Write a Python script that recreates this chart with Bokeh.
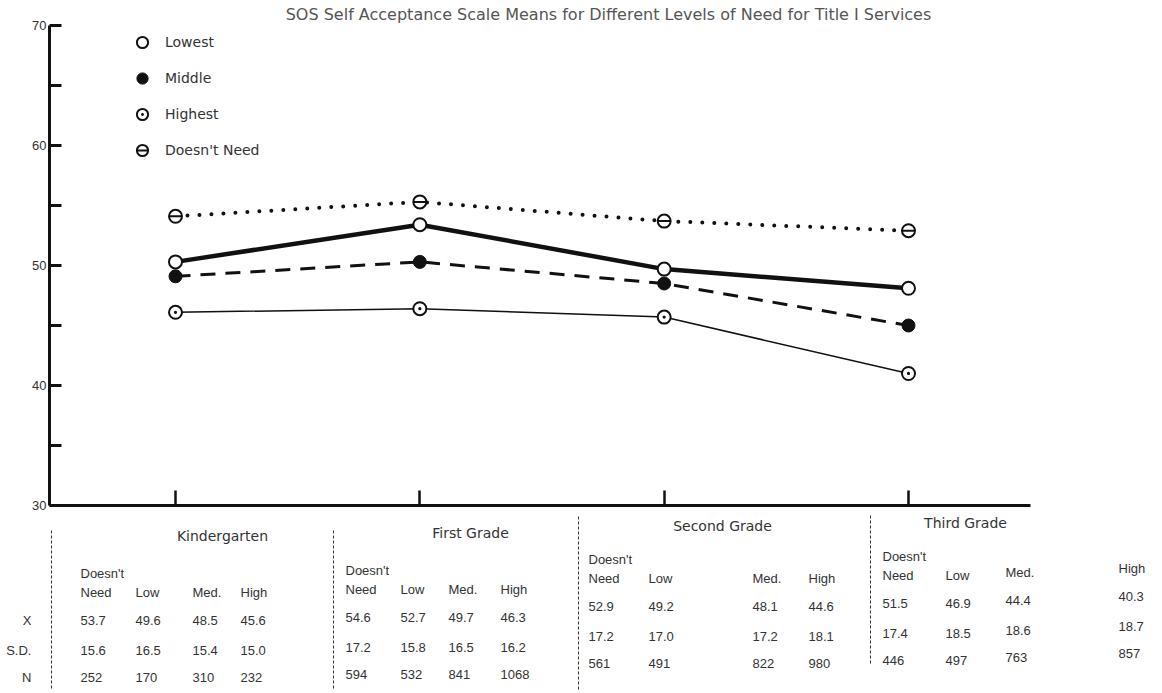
from bokeh.plotting import figure
from bokeh.models import Range1d, FixedTicker, Legend, LegendItem, Label, ColumnDataSource
from bokeh.layouts import column
from bokeh.embed import file_html
from bokeh.resources import INLINE
from bokeh.core.properties import value

# ---------------- data ----------------
grades = ["Kindergarten", "First Grade", "Second Grade", "Third Grade"]
series_names = ["Lowest", "Middle", "Highest", "Doesn't Need"]

# plotted means
lowest = [50.3, 53.4, 49.7, 48.1]
middle = [49.1, 50.3, 48.5, 45.0]
highest = [46.1, 46.4, 45.7, 41.0]
doesnt_need = [54.1, 55.3, 53.7, 52.9]

y_major = [30, 40, 50, 60, 70]
y_minor = [35, 45, 55, 65]

title_text = "SOS Self Acceptance Scale Means for Different Levels of Need for Title I Services"

# table below the chart
table_cols = ["Need", "Low", "Med.", "High"]
row_labels = ["X", "S.D.", "N"]
mean_kg = [53.7, 49.6, 48.5, 45.6]
mean_g1 = [54.6, 52.7, 49.7, 46.3]
mean_g2 = [52.9, 49.2, 48.1, 44.6]
mean_g3 = [51.5, 46.9, 44.4, 40.3]
sd_kg = [15.6, 16.5, 15.4, 15.0]
sd_g1 = [17.2, 15.8, 16.5, 16.2]
sd_g2 = [17.2, 17.0, 17.2, 18.1]
sd_g3 = [17.4, 18.5, 18.6, 18.7]
n_kg = [252, 170, 310, 232]
n_g1 = [594, 532, 841, 1068]
n_g2 = [561, 491, 822, 980]
n_g3 = [446, 497, 763, 857]

# ---------------- style / layout ----------------
NUMF = "Liberation Sans"
WORDF = "DejaVu Sans"
INK = "#111111"
TXT = "#333333"
W = 1160
TOP_H = 513
BOT_H = 177
LEFT = 49
BORDER_B = 8

x_idx = list(range(len(grades)))

top = figure(width=W, height=TOP_H,
             x_range=Range1d(-0.5157, 4.0314), y_range=Range1d(30, 72.083),
             output_backend="svg", toolbar_location=None,
             min_border_left=LEFT, min_border_right=0, min_border_top=0, min_border_bottom=BORDER_B)
top.outline_line_color = None
top.grid.visible = False
top.background_fill_color = "white"

ya = top.yaxis[0]
ya.ticker = FixedTicker(ticks=y_major, minor_ticks=y_minor)
ya.bounds = (30, 70)
ya.major_tick_in = 12
ya.major_tick_out = 0
ya.minor_tick_in = 12
ya.minor_tick_out = 0
ya.major_tick_line_width = 3
ya.minor_tick_line_width = 3
ya.major_tick_line_color = INK
ya.minor_tick_line_color = INK
ya.axis_line_width = 3
ya.axis_line_color = INK
ya.major_label_text_font = NUMF
ya.major_label_text_font_size = "13px"
ya.major_label_text_color = TXT
ya.major_label_standoff = 3

xa = top.xaxis[0]
xa.ticker = FixedTicker(ticks=[], minor_ticks=x_idx)
xa.bounds = (-0.5157, 3.5)
xa.minor_tick_in = 15
xa.minor_tick_out = 0
xa.minor_tick_line_width = 2.5
xa.minor_tick_line_color = INK
xa.major_tick_line_color = None
xa.major_tick_out = 0
xa.axis_line_width = 3
xa.axis_line_color = INK

# lines
top.line(x_idx, doesnt_need, line_width=4, line_dash="0 12", line_cap="round", line_color=INK)
top.line(x_idx, lowest, line_width=4.5, line_color=INK)
top.line(x_idx, middle, line_width=3, line_dash="15 10", line_color=INK)
top.line(x_idx, highest, line_width=1.5, line_color=INK)

# markers
r_low = top.scatter(x_idx, lowest, marker="circle", size=13, fill_color="white", line_color=INK, line_width=2)
r_mid = top.scatter(x_idx, middle, marker="circle", size=13, fill_color=INK, line_color=INK)
r_high = top.scatter(x_idx, highest, marker="circle_dot", size=13, fill_color="white", line_color=INK, line_width=2)
r_dn = top.scatter(x_idx, doesnt_need, marker="circle", size=13, fill_color="white", line_color=INK, line_width=2)
r_dn_bar = top.scatter(x_idx, doesnt_need, marker="dash", size=13, line_color=INK, line_width=2)

legend = Legend(items=[
    LegendItem(label=series_names[0], renderers=[r_low]),
    LegendItem(label=series_names[1], renderers=[r_mid]),
    LegendItem(label=series_names[2], renderers=[r_high]),
    LegendItem(label=series_names[3], renderers=[r_dn, r_dn_bar]),
], location=(79, 341), glyph_width=28, glyph_height=28, spacing=8, padding=8,
    label_standoff=9, border_line_color=None, background_fill_alpha=0,
    label_text_font=WORDF, label_text_font_size="14px", label_text_color=TXT)
top.add_layout(legend)

top.add_layout(Label(x=608 - LEFT, y=TOP_H - BORDER_B - 14, x_units="screen", y_units="screen", text=title_text,
                     text_align="center", text_baseline="middle", text_font=WORDF,
                     text_font_size="16px", text_color="#555555"))

# ---------------- table ----------------
bot = figure(width=W, height=BOT_H, x_range=Range1d(LEFT, W), y_range=Range1d(TOP_H + BOT_H, TOP_H),
             x_axis_type=None, output_backend="svg", toolbar_location=None,
             min_border_left=LEFT, min_border_right=0, min_border_top=0, min_border_bottom=0)
bot.outline_line_color = None
bot.grid.visible = False

row_y = {"doesnt": 573, "hdr": 592, "X": 620, "S.D.": 650, "N": 677}

by = bot.yaxis[0]
by.ticker = FixedTicker(ticks=[row_y["X"], row_y["S.D."], row_y["N"]])
by.major_label_overrides = {row_y["X"]: row_labels[0], row_y["S.D."]: row_labels[1], row_y["N"]: row_labels[2]}
by.axis_line_color = None
by.major_tick_line_color = None
by.minor_tick_line_color = None
by.major_tick_in = 0
by.major_tick_out = 0
by.minor_tick_in = 0
by.minor_tick_out = 0
by.major_label_standoff = 18
by.major_label_text_font = NUMF
by.major_label_text_font_size = "13px"
by.major_label_text_color = TXT

group_means = [mean_kg, mean_g1, mean_g2, mean_g3]
group_sds = [sd_kg, sd_g1, sd_g2, sd_g3]
group_ns = [n_kg, n_g1, n_g2, n_g3]

col_x = [[80, 135, 192, 240], [345, 400, 448, 500], [588, 648, 752, 808], [882, 945, 1005, 1118]]
col_dy = [[0, 0, 0, 0], [0, 0, 0, 0], [0, 0, 0, 0], [0, 0, -3, -7]]
head_x = [222, 470, 722, 965]
head_y = [535, 532, 525, 522]
dy = [0, -3, -14, -17]

tx, ty, tt = [], [], []
for g in range(4):
    cx = col_x[g]
    d = dy[g]
    tx.append(cx[0]); ty.append(row_y["doesnt"] + d); tt.append("Doesn't")
    for j in range(4):
        dd = d + col_dy[g][j]
        tx.append(cx[j]); ty.append(row_y["hdr"] + dd); tt.append(table_cols[j])
        tx.append(cx[j]); ty.append(row_y["X"] + dd); tt.append(f"{group_means[g][j]:.1f}")
        tx.append(cx[j]); ty.append(row_y["S.D."] + dd); tt.append(f"{group_sds[g][j]:.1f}")
        tx.append(cx[j]); ty.append(row_y["N"] + dd); tt.append(str(group_ns[g][j]))

bot.text(x="x", y="y", text="t", source=ColumnDataSource(dict(x=tx, y=ty, t=tt)),
         text_align="left", text_baseline="middle", text_font=value(NUMF),
         text_font_size="13px", text_color=TXT)

bot.text(x=head_x, y=head_y, text=grades, text_align="center", text_baseline="middle",
         text_font=value(WORDF), text_font_size="14px", text_color=TXT)

bot.segment(x0=[51, 333, 578, 870], y0=[530, 530, 516, 515],
            x1=[51, 333, 578, 870], y1=[690, 690, 690, 665],
            line_dash="3 2", line_width=1, line_color="#333333")

layout = column(top, bot)
open("out.html", "w").write(file_html(layout, INLINE))
